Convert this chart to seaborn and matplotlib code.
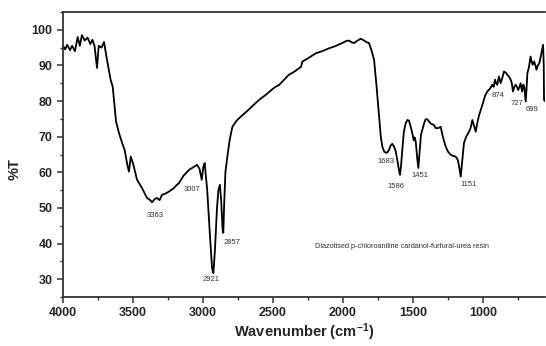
import numpy as np
import pandas as pd
import matplotlib
matplotlib.use("Agg")
import matplotlib.pyplot as plt
from matplotlib.ticker import MultipleLocator
import seaborn as sns

# FTIR spectrum
wavenumber = [4000, 3985, 3970, 3950, 3935, 3915, 3895, 3880, 3865, 3845, 3825, 3805, 3790, 3775,
              3757, 3745, 3725, 3707, 3690, 3660, 3645, 3621, 3600, 3578, 3560, 3540, 3529, 3516,
              3500, 3471, 3436, 3400, 3380, 3364, 3345, 3329, 3310, 3293, 3270, 3243, 3210, 3186,
              3171, 3140, 3100, 3070, 3043, 3025, 3009, 2998, 2988, 2970, 2950, 2935, 2926, 2915,
              2900, 2890, 2879, 2870, 2860, 2855, 2848, 2840, 2826, 2810, 2790, 2760, 2731, 2690,
              2650, 2600, 2560, 2529, 2490, 2457, 2420, 2386, 2350, 2314, 2300, 2290, 2250, 2195,
              2150, 2100, 2050, 2005, 1980, 1957, 1940, 1921, 1895, 1873, 1850, 1830, 1814, 1795,
              1778, 1760, 1743, 1730, 1719, 1705, 1695, 1683, 1671, 1660, 1648, 1635, 1624, 1610,
              1600, 1593, 1585, 1575, 1565, 1552, 1540, 1529, 1518, 1505, 1495, 1488, 1480, 1470,
              1462, 1452, 1443, 1433, 1420, 1410, 1398, 1385, 1370, 1350, 1338, 1320, 1302, 1290,
              1280, 1266, 1250, 1230, 1212, 1195, 1180, 1170, 1159, 1150, 1136, 1120, 1100, 1088,
              1076, 1064, 1052, 1040, 1028, 1016, 1000, 985, 969, 950, 933, 924, 914, 906,
              898, 886, 874, 862, 850, 838, 826, 814, 802, 794, 786, 776, 767, 758,
              748, 740, 731, 725, 720, 712, 705, 695, 688, 683, 672, 660, 652, 645,
              635, 625, 618, 608, 598, 590, 580, 571, 566, 564, 558]
transmittance = [95.5, 94.5, 95.8, 94.3, 95.5, 94.0, 98.0, 95.5, 98.5, 97.0, 97.8, 96.0, 97.2, 95.5,
                 89.3, 95.5, 95.0, 96.6, 92.5, 86.0, 84.0, 74.2, 71.0, 68.3, 66.3, 62.0, 60.2, 64.4,
                 62.5, 57.9, 55.6, 52.8, 52.3, 51.6, 52.5, 52.8, 52.2, 53.7, 54.0, 54.6, 55.5, 56.5,
                 57.0, 59.0, 60.7, 61.4, 62.1, 61.0, 57.9, 61.5, 62.6, 55.0, 42.0, 33.0, 31.7, 38.0,
                 50.0, 55.0, 56.5, 52.0, 44.0, 43.0, 52.0, 60.0, 64.4, 69.0, 72.8, 74.5, 75.6, 77.0,
                 78.5, 80.3, 81.5, 82.5, 83.8, 84.5, 86.0, 87.4, 88.2, 89.2, 89.6, 91.1, 92.0, 93.4,
                 94.0, 94.8, 95.5, 96.3, 96.8, 97.0, 96.5, 96.3, 97.0, 97.5, 97.0, 96.5, 96.3, 94.0,
                 91.6, 84.0, 76.0, 70.0, 67.2, 65.8, 65.5, 65.6, 66.3, 67.5, 68.0, 67.2, 66.0, 63.0,
                 60.5, 59.3, 62.0, 67.0, 71.5, 73.8, 74.7, 74.5, 73.0, 71.0, 69.0, 69.8, 68.5, 64.0,
                 61.2, 66.0, 70.5, 72.0, 73.8, 74.9, 74.9, 74.2, 73.6, 73.3, 72.4, 72.4, 72.8, 70.5,
                 69.0, 67.2, 65.8, 64.9, 64.6, 64.4, 63.5, 61.5, 58.8, 62.5, 68.2, 70.0, 71.4, 72.5,
                 74.7, 73.0, 71.4, 74.0, 76.0, 77.5, 79.5, 81.5, 82.7, 83.5, 84.6, 84.0, 86.0, 85.0,
                 84.6, 86.9, 85.0, 86.5, 88.3, 88.0, 87.4, 86.8, 86.0, 85.0, 82.7, 84.0, 84.6, 84.0,
                 83.1, 84.0, 85.0, 83.5, 82.7, 84.6, 84.0, 79.9, 84.0, 87.8, 89.5, 92.5, 91.0, 90.2,
                 91.1, 90.0, 88.8, 90.0, 90.6, 92.0, 94.0, 95.8, 90.0, 80.3, 80.0]

# peak labels: text, x, y (label position)
peak_labels = ["3363", "3007", "2921", "2857", "1683", "1586", "1451", "1151", "874", "727", "699"]
peak_x = [3343, 3079, 2943, 2793, 1693, 1621, 1452, 1100, 891, 755, 648]
peak_y = [48.0, 55.3, 29.8, 40.4, 62.9, 55.9, 59.1, 56.5, 81.5, 79.4, 77.7]

sample_name = "Diazotised p-chloroaniline cardanol-furfural-urea resin"

sns.set_style("ticks")
plt.rcParams['font.family'] = ['Liberation Sans', 'DejaVu Sans']
plt.rcParams['mathtext.fontset'] = 'custom'
plt.rcParams['mathtext.rm'] = 'Liberation Sans:bold'
plt.rcParams['mathtext.default'] = 'rm'

df = pd.DataFrame({"wavenumber": wavenumber, "T": transmittance})

fig = plt.figure(figsize=(5.46, 3.46), dpi=100)
ax = fig.add_axes([0.1154, 0.1416, 0.8833, 0.8237])
sns.lineplot(data=df, x="wavenumber", y="T", ax=ax, color="black", lw=1.3,
             estimator=None, sort=False)

ax.set_xlim(4000, 555)
ax.set_ylim(25, 105)
ax.xaxis.set_major_locator(MultipleLocator(500))
ax.xaxis.set_minor_locator(MultipleLocator(250))
ax.set_yticks(range(30, 101, 10))
ax.yaxis.set_minor_locator(MultipleLocator(5))
ax.tick_params(which="major", direction="out", length=4, width=1.1, labelsize=9, color="#333333")
ax.tick_params(which="minor", direction="out", length=2.5, width=1.0, color="#333333")
for lbl in ax.get_xticklabels() + ax.get_yticklabels():
    lbl.set_fontweight("bold")

for side in ["left", "bottom", "top"]:
    ax.spines[side].set_visible(True)
    ax.spines[side].set_linewidth(1.3)
    ax.spines[side].set_color("#333333")
ax.spines["right"].set_visible(False)

ax.set_xlabel("Wavenumber (cm$^{-1}$)", fontsize=10.5, fontweight="bold")
ax.set_ylabel("%T", fontsize=10.5, fontweight="bold")
ax.xaxis.set_label_coords(0.5, -0.085)
ax.yaxis.set_label_coords(-0.085, 0.45)

for t, x, y in zip(peak_labels, peak_x, peak_y):
    ax.text(x, y, t, fontsize=5.5, color="#333333", ha="center", va="center")
ax.text(1579, 39.3, sample_name, fontsize=5.3, color="#333333", ha="center", va="center")

fig.savefig("out.png", dpi=100)
